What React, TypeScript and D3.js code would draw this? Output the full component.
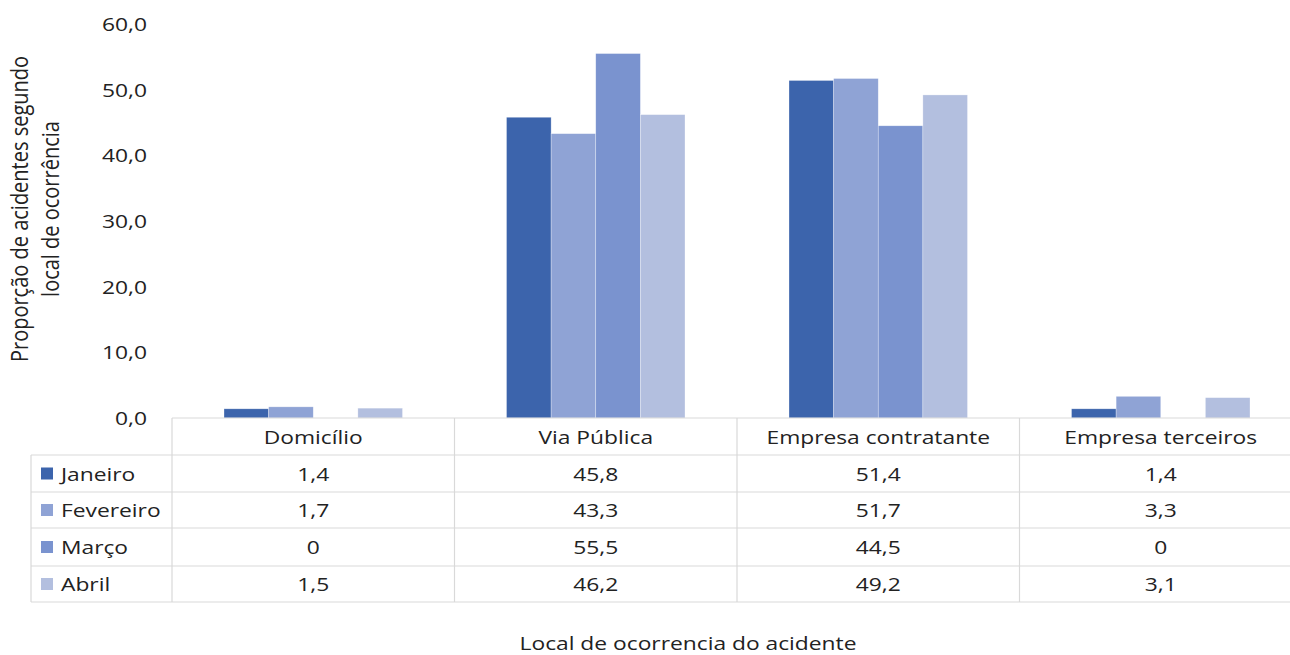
import React from "react";
import * as d3 from "d3";

const categories = ["Domicílio", "Via Pública", "Empresa contratante", "Empresa terceiros"];
const seriesNames = ["Janeiro", "Fevereiro", "Março", "Abril"];
const janeiro = [1.4, 45.8, 51.4, 1.4];
const fevereiro = [1.7, 43.3, 51.7, 3.3];
const marco = [0, 55.5, 44.5, 0];
const abril = [1.5, 46.2, 49.2, 3.1];
const seriesValues = [janeiro, fevereiro, marco, abril];
const tableLabels = [
  ["1,4", "45,8", "51,4", "1,4"],
  ["1,7", "43,3", "51,7", "3,3"],
  ["0", "55,5", "44,5", "0"],
  ["1,5", "46,2", "49,2", "3,1"],
];
const yTicks = [0, 10, 20, 30, 40, 50, 60];
const colors = ["#3C64AC", "#8FA3D5", "#7A93CF", "#B3BFDF"];

const W = 1290;
const H = 655;
const FONT = "'Open Sans', 'Noto Sans', sans-serif";
const TXT = "#222";
const GRID = "#d9d9d9";
const SX = 1.2;

function T({ x, y, anchor = "middle", size = 19, children }: any) {
  return (
    <text
      transform={`translate(${x},${y}) scale(${SX},1)`}
      textAnchor={anchor}
      fontFamily={FONT}
      fontSize={size}
      fill={TXT}
    >
      {children}
    </text>
  );
}

export default function App() {
  const plotLeft = 172;
  const plotRight = 1302;
  const y0 = 418;
  const yTop = 24;
  const y = d3.scaleLinear().domain([0, 60]).range([y0, yTop]);
  const x = d3.scaleBand<string>().domain(categories).range([plotLeft, plotRight]).padding(0);
  const bw = x.bandwidth();
  const pad = 52;
  const xi = d3.scaleBand<string>().domain(seriesNames).range([pad, bw - pad]).padding(0);

  const rowLines = [455, 492, 528, 566, 602];
  const tableLeft = 31;
  const fmt = (v: number) => d3.format(".1f")(v).replace(".", ",");

  return (
    <svg
      width={W}
      height={H}
      style={{ position: "fixed", left: 0, top: 0, background: "#fff" }}
    >
      <rect x={0} y={0} width={W} height={H} fill="#fff" />
      {/* y tick labels */}
      {yTicks.map((t) => (
        <T key={t} x={147} y={y(t) + 7} anchor="end">
          {fmt(t)}
        </T>
      ))}
      {/* y title */}
      <g fontFamily={FONT} fontSize={20} fill={TXT} textAnchor="middle">
        <text transform={`translate(28,209) rotate(-90) scale(1,${SX})`}>
          Proporção de acidentes segundo
        </text>
        <text transform={`translate(59,209) rotate(-90) scale(1,${SX})`}>
          local de ocorrência
        </text>
      </g>
      {/* bars */}
      {categories.map((c, ci) => (
        <g key={c} transform={`translate(${x(c)},0)`}>
          {seriesNames.map((s, si) => {
            const v = seriesValues[si][ci];
            if (!v) return null;
            return (
              <rect
                key={s}
                x={xi(s)}
                y={y(v)}
                width={xi.bandwidth()}
                height={y0 - y(v)}
                fill={colors[si]}
                stroke="#ffffff"
                strokeOpacity={0.5}
                strokeWidth={0.6}
              />
            );
          })}
        </g>
      ))}
      {/* table grid */}
      <g stroke={GRID} strokeWidth={1.2} fill="none">
        <line x1={plotLeft} x2={plotRight} y1={y0} y2={y0} />
        {rowLines.map((ly) => (
          <line key={ly} x1={tableLeft} x2={plotRight} y1={ly} y2={ly} />
        ))}
        <line x1={tableLeft} x2={tableLeft} y1={rowLines[0]} y2={rowLines[4]} />
        {categories.map((c) => (
          <line key={c} x1={x(c)} x2={x(c)} y1={y0} y2={rowLines[4]} />
        ))}
        <line x1={plotRight} x2={plotRight} y1={y0} y2={rowLines[4]} />
      </g>
      {/* headers */}
      {categories.map((c) => (
        <T key={c} x={(x(c) as number) + bw / 2} y={(y0 + rowLines[0]) / 2 + 7}>
          {c}
        </T>
      ))}
      {/* rows */}
      {seriesNames.map((s, si) => {
        const cy = (rowLines[si] + rowLines[si + 1]) / 2;
        return (
          <g key={s}>
            <rect x={41} y={cy - 6} width={12} height={12} fill={colors[si]} />
            <T x={61} y={cy + 7} anchor="start">
              {s}
            </T>
            {categories.map((c, ci) => (
              <T key={c} x={(x(c) as number) + bw / 2} y={cy + 7}>
                {tableLabels[si][ci]}
              </T>
            ))}
          </g>
        );
      })}
      {/* x title */}
      <T x={688} y={650}>
        Local de ocorrencia do acidente
      </T>
    </svg>
  );
}
